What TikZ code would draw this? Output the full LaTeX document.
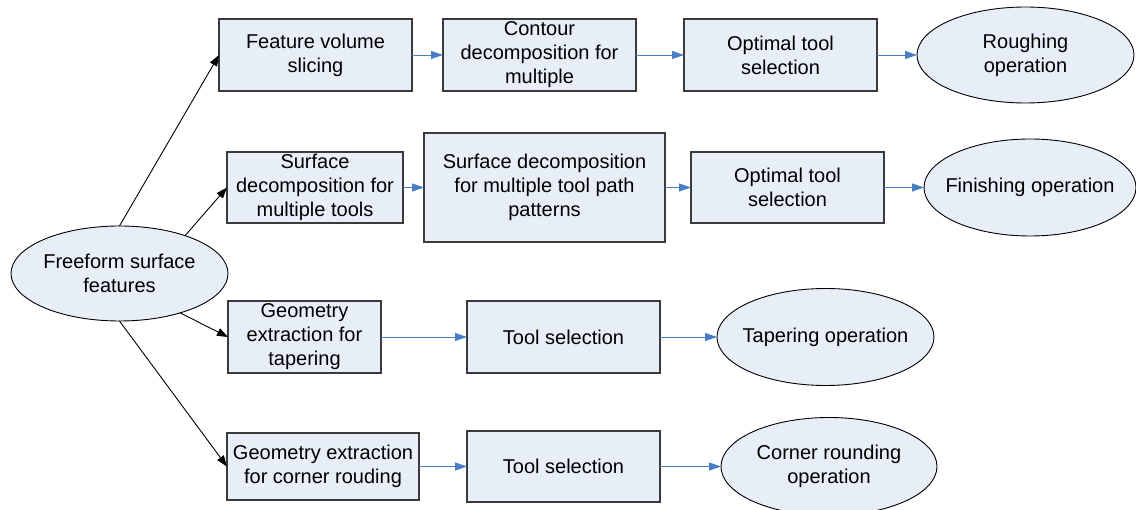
\documentclass[tikz,border=0pt]{standalone}
\usepackage{fontspec}
\setmainfont{Liberation Sans}
\usetikzlibrary{arrows.meta,shapes.geometric}
\definecolor{boxfill}{HTML}{E8EEF7}
\definecolor{boxline}{HTML}{3A3A3A}
\definecolor{flowblue}{HTML}{4A7EC4}
\tikzset{
  box/.style={draw=boxline, line width=1.2pt, fill=boxfill, inner sep=0pt, outer sep=0pt,
    align=center, font=\fontsize{20}{24}\selectfont},
  ell/.style={draw=black, line width=0.9pt, fill=boxfill, ellipse, inner sep=0pt, outer sep=0pt},
  txt/.style={align=center, font=\fontsize{20}{24}\selectfont, inner sep=0pt},
  blk/.style={draw=black, line width=0.9pt, -{Triangle[length=11pt,width=8pt]}},
  blu/.style={draw=flowblue, line width=0.95pt, -{Triangle[length=12pt,width=8pt]}},
}
\begin{document}
\begin{tikzpicture}[x=1pt,y=-1pt]
\useasboundingbox (0,0) rectangle (1136,510);
% row 1
\node[box, minimum width=193pt, minimum height=72pt] (fvs) at (315.5,55) {Feature volume\\slicing};
\node[box, minimum width=193pt, minimum height=72pt] (cd) at (539.5,55) {Contour\\decomposition for\\multiple};
\node[box, minimum width=193pt, minimum height=72pt] (ots1) at (780.5,55) {Optimal tool\\selection};
\node[ell, minimum width=217pt, minimum height=96pt] (rough) at (1025.5,55) {};
\node[txt] (rought) at (rough.center) {Roughing\\operation};
% row 2
\node[box, minimum width=176pt, minimum height=71pt] (sd1) at (315,187.5) {Surface\\decomposition for\\multiple tools};
\node[box, minimum width=241pt, minimum height=109pt] (sd2) at (544.5,187.5) {Surface decomposition\\for multiple tool path\\patterns};
\node[box, minimum width=193pt, minimum height=71pt] (ots2) at (787.5,187.5) {Optimal tool\\selection};
\node[ell, minimum width=212pt, minimum height=97pt] (fin) at (1030,187.5) {};
\node[txt] (fint) at (fin.center) {Finishing operation};
% source
\node[ell, minimum width=217pt, minimum height=95pt] (ff) at (119.5,273.5) {};
\node[txt] (fft) at (ff.center) {Freeform surface\\features};
% row 3
\node[box, minimum width=153pt, minimum height=72pt] (ge1) at (304.5,337) {Geometry\\extraction for\\tapering};
\node[box, minimum width=193pt, minimum height=72pt] (ts1) at (563.5,337) {Tool selection};
\node[ell, minimum width=217pt, minimum height=97pt] (tap) at (825.5,337) {};
\node[txt] (tapt) at (tap.center) {Tapering operation};
% row 4
\node[box, minimum width=192pt, minimum height=67pt] (ge2) at (323,466.5) {Geometry extraction\\for corner rouding};
\node[box, minimum width=193pt, minimum height=71pt] (ts2) at (563.5,466.5) {Tool selection};
\node[ell, minimum width=216pt, minimum height=98pt] (cr) at (829,466.5) {};
\node[txt] (crt) at (cr.center) {Corner rounding\\operation};
% black connectors
\draw[blk] (ff.north) -- (fvs.west);
\draw[blk] (ff.30) -- (sd1.west);
\draw[blk] (ff.-33) -- (ge1.west);
\draw[blk] (ff.south) -- (ge2.west);
% blue connectors
\draw[blu] (fvs.east) -- (cd.west);
\draw[blu] (cd.east) -- (ots1.west);
\draw[blu] (ots1.east) -- (rough.west);
\draw[blu] (sd1.east) -- (sd2.west);
\draw[blu] (sd2.east) -- (ots2.west);
\draw[blu] (ots2.east) -- (fin.west);
\draw[blu] (ge1.east) -- (ts1.west);
\draw[blu] (ts1.east) -- (tap.west);
\draw[blu] (ge2.east) -- (ts2.west);
\draw[blu] (ts2.east) -- (cr.west);
\end{tikzpicture}
\end{document}
